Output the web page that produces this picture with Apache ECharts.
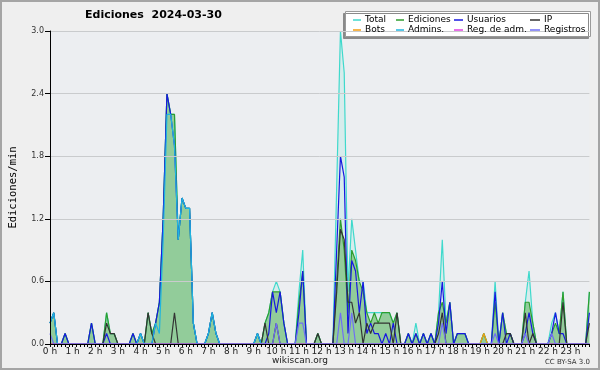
<!DOCTYPE html>
<html>
<head>
<meta charset="utf-8">
<script src="https://cdn.jsdelivr.net/npm/echarts@6/dist/echarts.min.js"></script>
<style>
  body { margin: 0; background: #efefef; }
  #grafico { width: 600px; height: 370px; }
</style>
</head>
<body>
<div id="grafico"></div>
<script>
// etiquetas de las horas (una cada 6 tramos de 10 min)
const etiquetasHora = ['0 h','1 h','2 h','3 h','4 h','5 h','6 h','7 h','8 h','9 h','10 h','11 h',
  '12 h','13 h','14 h','15 h','16 h','17 h','18 h','19 h','20 h','21 h','22 h','23 h'];

// ediciones/min por tramo de 10 minutos (144 tramos)
const total = [
  .2,.3,0,0,.1,0,0,0,0,0,0,.2,
  0,0,0,.3,.1,.1,0,0,0,0,.1,0,
  .1,0,.3,.1,.2,.4,1.2,2.4,2.2,2.2,1.0,1.4,
  1.3,1.3,.2,0,0,0,.1,.3,.1,0,0,0,
  0,0,0,0,0,0,0,.1,0,.2,.3,.5,
  .6,.5,.2,0,0,0,.5,.9,0,0,0,.1,
  0,0,0,0,1.5,3.0,2.6,.5,1.2,.9,.6,.6,
  .3,.3,.3,.3,.3,.3,.3,.2,.3,0,0,.1,
  0,.2,0,.1,0,.1,0,.3,1.0,.2,.4,0,
  .1,.1,.1,0,0,0,0,.1,0,0,.6,0,
  .3,.1,.1,0,0,0,.4,.7,.2,0,0,0,
  0,.2,.3,.1,.5,0,0,0,0,0,0,.5
];
const ediciones = [
  .2,.3,0,0,.1,0,0,0,0,0,0,.2,
  0,0,0,.3,.1,.1,0,0,0,0,.1,0,
  .1,0,.3,.1,.2,.4,1.2,2.4,2.2,2.2,1.0,1.4,
  1.3,1.3,.2,0,0,0,.1,.3,.1,0,0,0,
  0,0,0,0,0,0,0,.1,0,.2,.3,.5,
  .5,.5,.2,0,0,0,.4,.7,0,0,0,.1,
  0,0,0,0,.6,1.2,.9,.3,.9,.8,.6,.5,
  .3,.2,.3,.2,.3,.3,.3,.2,.3,0,0,.1,
  0,.1,0,.1,0,.1,0,.3,.4,.2,.4,0,
  .1,.1,.1,0,0,0,0,.1,0,0,.4,0,
  .3,.1,.1,0,0,0,.4,.4,.2,0,0,0,
  0,.1,.2,.1,.5,0,0,0,0,0,0,.5
];
const usuarios = [
  .2,.3,0,0,.1,0,0,0,0,0,0,.2,
  0,0,0,.1,0,0,0,0,0,0,.1,0,
  .1,0,0,0,.2,.4,1.2,2.4,2.2,1.9,1.0,1.4,
  1.3,1.3,.2,0,0,0,.1,.3,.1,0,0,0,
  0,0,0,0,0,0,0,.1,0,0,.1,.5,
  .3,.5,.2,0,0,0,.3,.7,0,0,0,0,
  0,0,0,0,.9,1.8,1.6,.1,.8,.7,.3,.6,
  .1,.2,.1,.1,0,.1,0,.2,0,0,0,.1,
  0,.1,0,.1,0,.1,0,.2,.6,.1,.4,0,
  .1,.1,.1,0,0,0,0,0,0,0,.5,0,
  .3,0,.1,0,0,0,.1,.3,.1,0,0,0,
  0,.1,.3,.1,.1,0,0,0,0,0,0,.3
];
const ip = [
  0,0,0,0,0,0,0,0,0,0,0,0,
  0,0,0,.2,.1,.1,0,0,0,0,0,0,
  0,0,.3,.1,0,0,0,0,0,.3,0,0,
  0,0,0,0,0,0,0,0,0,0,0,0,
  0,0,0,0,0,0,0,0,0,.2,0,0,
  .2,0,0,0,0,0,0,0,0,0,0,.1,
  0,0,0,0,.5,1.1,1.0,.4,.4,.2,.3,0,
  .2,.1,.2,.2,.2,.2,.2,0,.3,0,0,0,
  0,0,0,0,0,0,0,.1,.3,0,0,0,
  0,0,0,0,0,0,0,0,0,0,0,0,
  0,.1,.1,0,0,0,.3,0,.1,0,0,0,
  0,0,0,0,.4,0,0,0,0,0,0,.2
];
const bots = [
  0,0,0,0,0,0,0,0,0,0,0,0,
  0,0,0,0,0,0,0,0,0,0,0,0,
  0,0,0,0,0,0,0,0,0,0,0,0,
  0,0,0,0,0,0,0,0,0,0,0,0,
  0,0,0,0,0,0,0,0,0,0,0,0,
  0,0,0,0,0,0,0,0,0,0,0,0,
  0,0,0,0,0,0,0,0,0,0,0,0,
  0,0,0,0,0,0,0,0,0,0,0,0,
  0,0,0,0,0,0,0,0,0,0,0,0,
  0,0,0,0,0,0,0,.1,0,0,0,0,
  0,0,0,0,0,0,0,0,0,0,0,0,
  0,0,0,0,0,0,0,0,0,0,0,0
];
const admins = [
  .2,.3,0,0,0,0,0,0,0,0,0,0,
  0,0,0,0,0,0,0,0,0,0,0,0,
  .1,0,0,0,.2,.1,1.0,2.2,2.2,1.9,1.0,1.4,
  1.3,1.3,.2,0,0,0,.1,.3,.1,0,0,0,
  0,0,0,0,0,0,0,.1,0,0,0,0,
  0,0,0,0,0,0,0,0,0,0,0,0,
  0,0,0,0,0,0,0,0,0,0,0,0,
  0,0,0,0,0,0,0,0,0,0,0,0,
  0,0,0,0,0,0,0,0,0,0,0,0,
  0,0,0,0,0,0,0,0,0,0,0,0,
  0,0,0,0,0,0,0,0,0,0,0,0,
  0,0,0,0,0,0,0,0,0,0,0,0
];
const regAdm = [
  0,0,0,0,0,0,0,0,0,0,0,0,
  0,0,0,0,0,0,0,0,0,0,0,0,
  0,0,0,0,0,0,0,0,0,0,0,0,
  0,0,0,0,0,0,0,0,0,0,0,0,
  0,0,0,0,0,0,0,0,0,0,0,0,
  0,0,0,0,0,0,0,0,0,0,0,0,
  0,0,0,0,0,0,0,0,0,0,0,0,
  0,0,0,0,0,0,0,0,0,0,0,0,
  0,0,0,0,0,0,0,0,0,0,0,0,
  0,0,0,0,0,0,0,0,0,0,0,0,
  0,0,0,0,0,0,0,0,0,0,0,0,
  0,0,0,0,0,0,0,0,0,0,0,0
];
const registros = [
  .1,0,0,0,0,0,0,0,0,0,0,0,
  0,0,0,0,0,0,0,0,0,0,0,0,
  0,0,0,0,0,0,0,0,0,0,0,0,
  0,0,0,0,0,0,0,0,0,0,0,0,
  0,0,0,0,0,0,0,0,0,0,0,0,
  .2,0,0,0,0,0,.2,.2,0,0,0,0,
  0,0,0,0,0,.3,0,0,.3,0,0,0,
  0,0,0,0,0,0,0,0,0,0,0,0,
  0,0,0,0,0,0,0,0,.2,0,0,0,
  0,0,0,0,0,0,0,0,0,0,.1,0,
  0,0,0,0,0,0,.1,0,0,0,0,0,
  0,.1,0,0,0,0,0,0,0,0,0,0
];

const chart = echarts.init(document.getElementById('grafico'), null, { renderer: 'canvas' });

const pares = arr => arr.map((v, i) => [i, v]);

function serie(nombre, datos, color, relleno) {
  const s = {
    name: nombre,
    type: 'line',
    data: pares(datos),
    color: color,
    symbol: 'none',
    lineStyle: { width: 1.2, color: color }
  };
  if (relleno) s.areaStyle = { color: relleno, opacity: 1 };
  return s;
}

// columnas de la leyenda
const columnas = [['Total', 'Bots'], ['Ediciones', 'Admins.'], ['Usuarios', 'Reg. de adm.'], ['IP', 'Registros']];
const colIzq = [353, 396, 454, 530];
const colAncho = [8, 8, 9, 10];

const option = {
  animation: false,
  backgroundColor: '#efefef',
  title: {
    text: 'Ediciones  2024-03-30',
    left: 85,
    top: 10,
    padding: 0,
    textStyle: { fontFamily: 'DejaVu Sans', fontSize: 11, fontWeight: 'bold', color: '#000' }
  },
  legend: columnas.map((col, k) => ({
    data: col,
    orient: 'vertical',
    left: colIzq[k],
    top: 15,
    itemGap: 0,
    itemWidth: colAncho[k],
    itemHeight: 1.5,
    icon: 'rect',
    selectedMode: false,
    textStyle: { fontFamily: 'DejaVu Sans', fontSize: 9, color: '#000', lineHeight: 10, padding: [0, 0, 0, -1] },
    padding: 0,
    z: 10
  })),
  grid: {
    left: 46, top: 31, width: 543.4, height: 313,
    show: true, backgroundColor: '#eceef1', borderWidth: 0
  },
  xAxis: {
    type: 'value',
    min: 0, max: 143, interval: 1,
    z: 10,
    axisLine: { lineStyle: { color: '#000', width: 1 } },
    axisTick: { length: 3, lineStyle: { color: '#000' } },
    splitLine: { show: false },
    axisLabel: {
      margin: 3,
      fontFamily: 'DejaVu Sans', fontSize: 9, color: '#222',
      formatter: v => (v % 6 === 0 ? etiquetasHora[v / 6] : '')
    }
  },
  yAxis: {
    type: 'value',
    min: 0, max: 3, interval: 0.6,
    z: 10,
    name: 'Ediciones/min',
    nameLocation: 'middle',
    nameGap: 31,
    nameTextStyle: { fontFamily: 'DejaVu Sans Mono', fontSize: 10.5, color: '#000' },
    axisLine: { show: true, lineStyle: { color: '#000', width: 1 } },
    axisTick: { show: true, length: 5, lineStyle: { color: '#000' } },
    splitLine: { lineStyle: { color: '#c9cbcd', width: 1 } },
    axisLabel: {
      margin: 6,
      fontFamily: 'DejaVu Sans', fontSize: 8, color: '#333',
      formatter: v => v.toFixed(1)
    }
  },
  graphic: [
    { type: 'rect', z: 5, shape: { x: 1, y: 1, width: 598, height: 368 },
      style: { fill: null, stroke: '#a5a5a5', lineWidth: 2 } },
    { type: 'rect', z: 5, shape: { x: 345.5, y: 11.5, width: 245, height: 25 },
      style: { fill: '#fff', stroke: '#9a9a9a', lineWidth: 1,
               shadowColor: '#8a8a8a', shadowOffsetX: -2, shadowOffsetY: 2, shadowBlur: 0 } },
    { type: 'text', z: 5, left: 'center', top: 356,
      style: { text: 'wikiscan.org', font: '9px "DejaVu Sans"', fill: '#222' } },
    { type: 'text', z: 5, right: 10, top: 359,
      style: { text: 'CC BY-SA 3.0', font: '7px "DejaVu Sans"', fill: '#333' } }
  ],
  series: [
    serie('Total', total, '#3fd9cc', 'rgba(64,224,208,0.12)'),
    serie('Ediciones', ediciones, '#2e9e2e', 'rgba(50,160,40,0.42)'),
    serie('Usuarios', usuarios, '#1818e0'),
    serie('IP', ip, '#333333'),
    serie('Bots', bots, '#f39c12'),
    serie('Admins.', admins, '#1fb5df'),
    serie('Reg. de adm.', regAdm, '#e040e0'),
    serie('Registros', registros, '#6f6ff5')
  ]
};

chart.setOption(option);
</script>
</body>
</html>
